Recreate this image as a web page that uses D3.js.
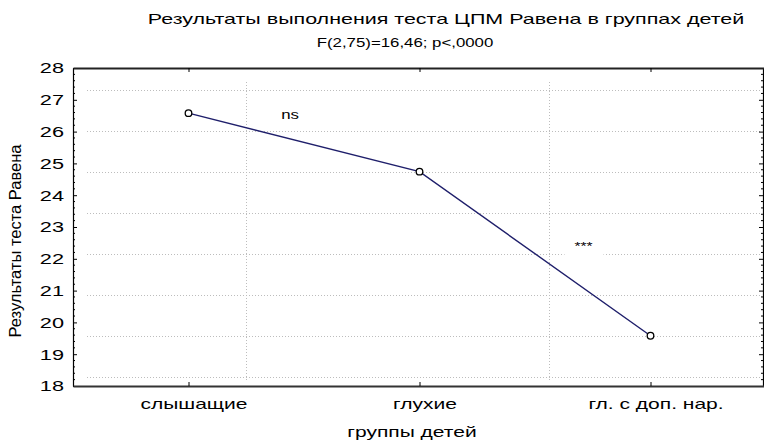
<!DOCTYPE html>
<html>
<head>
<meta charset="utf-8">
<script src="https://cdn.jsdelivr.net/npm/d3@7"></script>
<style>
  html, body { margin: 0; padding: 0; background: #fff; }
  svg { display: block; font-family: Arial, "Liberation Sans", sans-serif; }
</style>
</head>
<body>
<svg id="chart" width="764" height="441"></svg>
<script>
// Group means of the Raven CPM test
const categories = ["слышащие", "глухие", "гл. с доп. нар."];
const means = [26.58, 24.74, 19.58];
const yTicks = [18, 19, 20, 21, 22, 23, 24, 25, 26, 27, 28];
const gridY = [18.29, 19.58, 20.87, 22.16, 23.45, 24.74, 26.03, 27.32];
const gridX = [0.25, 1.56];
const annotations = [
  { text: "ns", at: 0.44, value: 26.4, size: 12 },
  { text: "***", at: 1.71, value: 22.28, size: 11 }
];
const titleText = "Результаты выполнения теста ЦПМ Равена в группах детей";
const subtitleText = "F(2,75)=16,46; p<,0000";
const xTitle = "группы детей";
const yTitle = "Результаты теста Равена";

const svg = d3.select("#chart");
const plotLeft = 73, plotRight = 766, plotTop = 68, plotBottom = 386;
const WIDE = 1.4; // horizontal widening of the lettering

// widen text horizontally while keeping its height
function widen(sel, k = WIDE) {
  sel.each(function () {
    const w = this.getComputedTextLength();
    d3.select(this).attr("textLength", w * k).attr("lengthAdjust", "spacingAndGlyphs");
  });
  return sel;
}

const x = d3.scalePoint().domain(categories).range([plotLeft, plotRight]).padding(0.5);
const xi = d3.scaleLinear().domain([-0.5, 2.5]).range([plotLeft, plotRight]);
const y = d3.scaleLinear().domain([18, 28]).range([plotBottom, plotTop]);

// dotted grid
const grid = svg.append("g").attr("stroke", "#bdbdbd").attr("stroke-width", 1)
  .attr("stroke-dasharray", "1,2");
grid.selectAll("line.h").data(gridY).join("line").attr("class", "h")
  .attr("x1", plotLeft + 14).attr("x2", plotRight - 4)
  .attr("y1", d => Math.round(y(d)) + 0.5).attr("y2", d => Math.round(y(d)) + 0.5);
grid.selectAll("line.v").data(gridX).join("line").attr("class", "v")
  .attr("x1", d => Math.round(xi(d)) + 0.5).attr("x2", d => Math.round(xi(d)) + 0.5)
  .attr("y1", plotTop + 14).attr("y2", plotBottom - 4);

// annotations with a white backing box
annotations.forEach(a => {
  const g = svg.append("g");
  const t = g.append("text")
    .attr("x", xi(a.at)).attr("y", y(a.value))
    .attr("text-anchor", "middle").attr("font-size", a.size).attr("fill", "#000")
    .text(a.text);
  widen(t);
  if (a.text === "***") {
    const bb = t.node().getBBox();
    g.insert("rect", "text")
      .attr("x", bb.x - 10).attr("y", bb.y - 2)
      .attr("width", bb.width + 20).attr("height", bb.height + 8)
      .attr("fill", "#fff");
  }
});

// minor ticks along the value axes
const minor = d3.range(18, 28.001, 0.2).filter(v => Math.abs(v - Math.round(v)) > 1e-6);
svg.append("g").selectAll("line").data(minor).join("line")
  .attr("x1", plotLeft).attr("x2", plotLeft + 2)
  .attr("y1", d => y(d)).attr("y2", d => y(d))
  .attr("stroke", "#000").attr("stroke-width", 1);
svg.append("g").selectAll("line").data(minor).join("line")
  .attr("x1", 763).attr("x2", 761)
  .attr("y1", d => y(d)).attr("y2", d => y(d))
  .attr("stroke", "#000").attr("stroke-width", 1);

// left axis
const yAxis = svg.append("g").attr("transform", `translate(${plotLeft},0)`)
  .call(d3.axisLeft(y).tickValues(yTicks).tickSize(-4).tickPadding(9).tickSizeOuter(0));
yAxis.select(".domain").attr("stroke", "#000").attr("stroke-width", 1.2);
yAxis.selectAll(".tick line").attr("stroke", "#000");
widen(yAxis.selectAll(".tick text").attr("font-size", 15.5).attr("fill", "#000")
  .attr("font-family", "Arial, 'Liberation Sans', sans-serif"));

// right axis
const yAxisR = svg.append("g").attr("transform", "translate(763,0)")
  .call(d3.axisRight(y).tickValues(yTicks).tickSize(-4).tickSizeOuter(0).tickFormat(""));
yAxisR.select(".domain").attr("stroke", "#000").attr("stroke-width", 1.2);
yAxisR.selectAll(".tick line").attr("stroke", "#000");

// top frame
const xTop = svg.append("g").attr("transform", `translate(0,${plotTop})`)
  .call(d3.axisTop(x).tickSize(-4).tickSizeOuter(0).tickFormat(""));
xTop.select(".domain").attr("stroke", "#222").attr("stroke-width", 2);
xTop.selectAll(".tick line").attr("stroke", "#000");

// bottom axis
const xAxis = svg.append("g").attr("transform", `translate(0,${plotBottom})`)
  .call(d3.axisBottom(x).tickSize(-4).tickPadding(12).tickSizeOuter(0));
xAxis.select(".domain").attr("stroke", "#333").attr("stroke-width", 2);
xAxis.selectAll(".tick line").attr("stroke", "#000");
widen(xAxis.selectAll(".tick text").attr("font-size", 15).attr("fill", "#000")
  .attr("dx", 5)
  .attr("font-family", "Arial, 'Liberation Sans', sans-serif"));

// mean line
const pts = categories.map((c, i) => ({ c, v: means[i] }));
svg.append("path").datum(pts)
  .attr("fill", "none").attr("stroke", "#1f1f6b").attr("stroke-width", 1.4)
  .attr("d", d3.line().x(d => x(d.c)).y(d => y(d.v)));
svg.append("g").selectAll("circle").data(pts).join("circle")
  .attr("cx", d => x(d.c)).attr("cy", d => y(d.v)).attr("r", 3.3)
  .attr("fill", "#fff").attr("stroke", "#000").attr("stroke-width", 1.3);

// titles
widen(svg.append("text").attr("x", 446).attr("y", 24).attr("text-anchor", "middle")
  .attr("font-size", 15).attr("fill", "#000").text(titleText), 1.43);
widen(svg.append("text").attr("x", 405).attr("y", 47).attr("text-anchor", "middle")
  .attr("font-size", 12).attr("fill", "#000").text(subtitleText));
widen(svg.append("text").attr("x", 412).attr("y", 437).attr("text-anchor", "middle")
  .attr("font-size", 15).attr("fill", "#000").text(xTitle));
svg.append("text").attr("transform", "translate(21,241) rotate(-90)")
  .attr("text-anchor", "middle").attr("font-size", 16.5).attr("fill", "#000").text(yTitle);
</script>
</body>
</html>
